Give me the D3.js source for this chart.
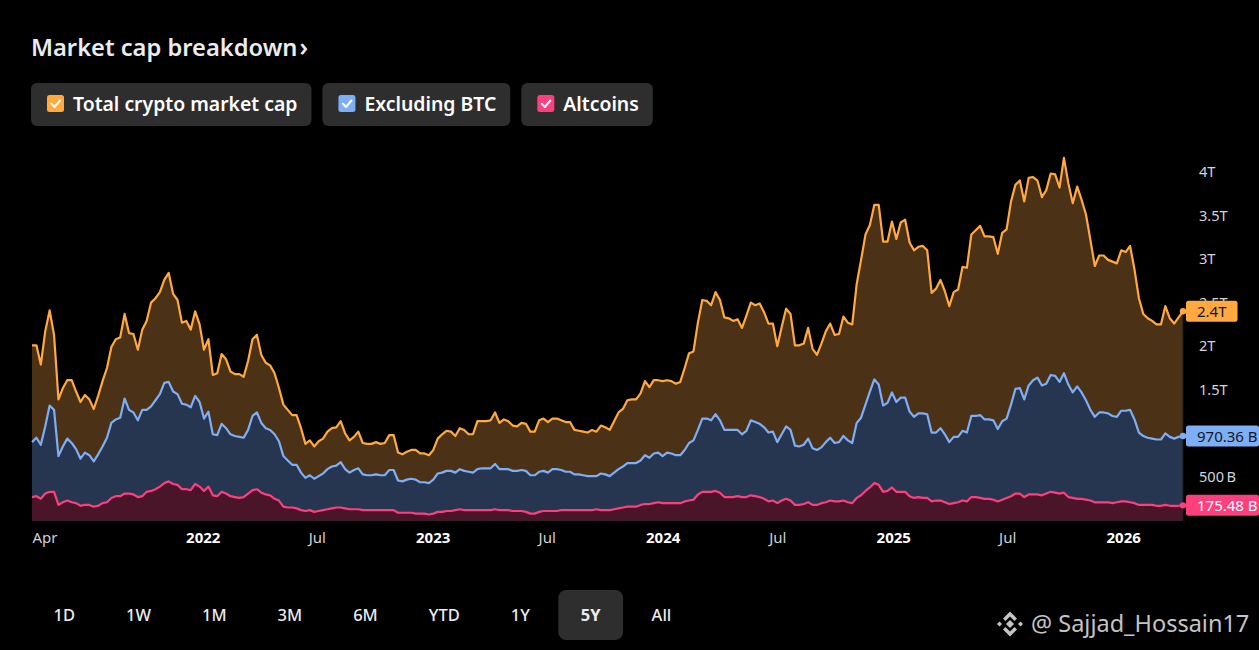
<!DOCTYPE html>
<html>
<head>
<meta charset="utf-8">
<script src="https://cdn.jsdelivr.net/npm/d3@7"></script>
<style>
  html, body { margin: 0; padding: 0; background: #000; }
  svg { display: block; font-family: "Noto Sans", "Open Sans", sans-serif; }
</style>
</head>
<body>
<svg id="chart" width="1259" height="650"></svg>
<script>
// weekly values in trillions of USD
const firstWeek = new Date(2021, 3, 5)

const total = [
  2.01,2.01,1.79,2.17,2.41,2.13,1.39,1.52,1.61,1.61,1.48,1.36,1.44,1.39,1.28,1.43,1.60,1.75,1.99,2.08,
  2.10,2.37,2.15,2.14,1.96,2.19,2.29,2.50,2.55,2.62,2.76,2.84,2.60,2.53,2.27,2.29,2.19,2.40,2.25,1.96,
  2.08,1.67,1.69,1.91,1.85,1.71,1.68,1.68,1.65,1.83,2.08,2.13,1.90,1.81,1.78,1.69,1.52,1.33,1.27,1.21,
  1.21,1.06,0.88,0.92,0.85,0.91,0.94,1.02,
  1.06,1.07,1.14,1.00,0.92,0.96,1.02,0.89,0.88,0.88,0.90,0.88,0.89,0.98,0.98,0.78,0.76,0.79,0.81,0.81,
  0.77,0.77,0.75,0.81,0.94,0.99,1.03,1.02,0.97,1.06,1.04,0.99,0.99,1.14,1.14,1.14,1.15,1.24,1.12,1.16,
  1.14,1.09,1.08,1.12,1.11,1.02,1.02,1.15,1.17,1.13,1.17,1.17,1.15,1.13,1.13,1.04,1.03,1.02,1.01,1.04,
  1.02,1.09,1.07,1.04,1.14,1.24,1.28,1.38,1.39,1.39,1.46,1.60,1.53,
  1.61,1.61,1.60,1.61,1.60,1.57,1.59,1.75,1.92,1.94,2.27,2.53,2.52,2.47,2.62,2.53,2.33,2.32,2.29,2.31,
  2.21,2.35,2.50,2.47,2.49,2.39,2.26,2.26,2.00,2.22,2.43,2.37,2.01,2.01,2.03,2.21,1.97,1.90,2.03,2.17,
  2.26,2.13,2.14,2.34,2.27,2.25,2.71,2.99,3.28,3.39,3.62,3.62,3.20,3.20,3.43,3.23,3.42,3.45,3.19,3.10,
  3.14,
  3.15,3.10,2.61,2.66,2.76,2.63,2.46,2.62,2.65,2.91,2.90,3.28,3.33,3.38,3.26,3.26,3.25,3.06,3.30,3.34,
  3.66,3.85,3.90,3.66,3.93,3.94,3.90,3.71,3.79,3.98,3.97,3.82,4.16,3.87,3.64,3.83,3.68,3.51,3.22,2.92,
  3.04,3.04,2.99,2.97,2.95,3.10,3.08,3.15,2.88,2.55,2.37,2.32,2.29,2.25,2.25,2.46,2.32,2.26,2.33,2.40
]

const exBtc = [
  0.90,0.95,0.87,1.08,1.32,1.27,0.74,0.85,0.94,0.89,0.82,0.71,0.78,0.75,0.68,0.76,0.85,0.95,1.12,1.16,
  1.18,1.40,1.27,1.24,1.15,1.27,1.27,1.31,1.38,1.45,1.58,1.59,1.48,1.45,1.34,1.33,1.30,1.43,1.36,1.17,
  1.25,0.99,0.98,1.11,1.06,0.99,0.97,0.96,0.95,1.04,1.20,1.24,1.12,1.06,1.04,0.99,0.91,0.74,0.69,0.64,
  0.64,0.55,0.49,0.52,0.48,0.51,0.54,0.59,
  0.62,0.63,0.67,0.59,0.55,0.58,0.60,0.53,0.52,0.52,0.53,0.52,0.52,0.58,0.58,0.46,0.45,0.47,0.48,0.47,
  0.44,0.44,0.43,0.47,0.54,0.55,0.57,0.57,0.55,0.59,0.57,0.56,0.55,0.59,0.60,0.60,0.60,0.65,0.59,0.59,
  0.59,0.57,0.57,0.58,0.57,0.52,0.52,0.56,0.57,0.55,0.59,0.59,0.58,0.56,0.56,0.53,0.53,0.52,0.51,0.51,
  0.51,0.54,0.53,0.51,0.55,0.59,0.62,0.66,0.66,0.66,0.69,0.75,0.72,
  0.77,0.78,0.74,0.78,0.77,0.75,0.75,0.81,0.89,0.92,1.04,1.17,1.17,1.15,1.22,1.15,1.04,1.04,1.04,1.04,
  0.99,1.03,1.15,1.13,1.11,1.07,1.01,1.02,0.90,0.99,1.08,1.04,0.86,0.85,0.87,0.94,0.83,0.81,0.84,0.90,
  0.95,0.89,0.90,0.97,0.92,0.89,1.12,1.18,1.33,1.48,1.62,1.56,1.32,1.35,1.47,1.36,1.41,1.41,1.25,1.19,
  1.23,
  1.23,1.22,1.01,1.01,1.06,0.99,0.90,0.96,0.96,1.03,1.01,1.20,1.20,1.21,1.16,1.16,1.15,1.05,1.14,1.17,
  1.33,1.51,1.52,1.39,1.55,1.61,1.64,1.55,1.57,1.67,1.66,1.59,1.69,1.56,1.47,1.54,1.47,1.38,1.27,1.19,
  1.24,1.24,1.23,1.20,1.19,1.26,1.26,1.27,1.16,1.01,0.97,0.95,0.94,0.93,0.93,1.00,0.96,0.94,0.96,0.97
]

const alts = [
  0.27,0.28,0.25,0.31,0.33,0.33,0.18,0.21,0.23,0.21,0.20,0.17,0.18,0.18,0.16,0.17,0.20,0.21,0.26,0.28,
  0.28,0.31,0.31,0.30,0.27,0.28,0.33,0.34,0.36,0.39,0.43,0.45,0.42,0.41,0.36,0.36,0.35,0.42,0.39,0.34,
  0.39,0.29,0.28,0.33,0.31,0.28,0.27,0.26,0.27,0.31,0.35,0.36,0.32,0.30,0.29,0.25,0.23,0.16,0.15,0.15,
  0.14,0.12,0.11,0.12,0.10,0.11,0.12,0.13,
  0.14,0.15,0.15,0.14,0.13,0.13,0.13,0.12,0.12,0.12,0.12,0.12,0.12,0.12,0.12,0.09,0.09,0.09,0.09,0.08,
  0.08,0.08,0.07,0.08,0.10,0.10,0.11,0.11,0.12,0.13,0.12,0.12,0.12,0.12,0.12,0.12,0.12,0.13,0.12,0.12,
  0.12,0.11,0.11,0.11,0.10,0.08,0.08,0.10,0.11,0.11,0.11,0.11,0.12,0.12,0.12,0.12,0.12,0.12,0.12,0.12,
  0.13,0.12,0.12,0.12,0.13,0.14,0.15,0.16,0.16,0.16,0.18,0.19,0.19,
  0.20,0.21,0.20,0.20,0.20,0.20,0.20,0.22,0.23,0.24,0.30,0.33,0.33,0.33,0.34,0.32,0.27,0.27,0.27,0.28,
  0.27,0.27,0.29,0.28,0.27,0.25,0.22,0.23,0.20,0.23,0.25,0.23,0.18,0.18,0.19,0.21,0.18,0.18,0.20,0.21,
  0.23,0.22,0.22,0.23,0.21,0.20,0.26,0.29,0.34,0.38,0.43,0.41,0.33,0.34,0.38,0.33,0.33,0.33,0.28,0.26,
  0.27,
  0.26,0.26,0.22,0.23,0.23,0.21,0.19,0.20,0.21,0.23,0.22,0.27,0.27,0.26,0.25,0.25,0.24,0.22,0.24,0.26,
  0.28,0.31,0.31,0.27,0.30,0.30,0.30,0.29,0.31,0.33,0.32,0.31,0.32,0.27,0.26,0.25,0.25,0.24,0.23,0.21,
  0.21,0.21,0.21,0.20,0.21,0.22,0.22,0.21,0.20,0.18,0.18,0.18,0.18,0.17,0.17,0.18,0.17,0.17,0.17,0.175
]

const seriesNames = ["Total crypto market cap", "Excluding BTC", "Altcoins"]
const lastLabels = ["2.4T", "970.36 B", "175.48 B"]
// the 1T tick sits under the blue value tag in the reference, so it is not listed
const yTicks = [0.5, 1.5, 2, 2.5, 3, 3.5, 4]
const xTicks = [firstWeek, new Date(2022,0,1), new Date(2022,6,1), new Date(2023,0,1), new Date(2023,6,1),
  new Date(2024,0,1), new Date(2024,6,1), new Date(2025,0,1), new Date(2025,6,1), new Date(2026,0,1)]
const ranges = ["1D", "1W", "1M", "3M", "6M", "YTD", "1Y", "5Y", "All"]
const activeRange = "5Y"

const lineColors = ["#ffa940", "#7eaef5", "#fd3f7d"]
const fillColors = ["#4b3216", "#263550", "#4a1429"]
const labelText = ["#131722", "#131722", "#ffffff"]

const svg = d3.select("#chart")

const weeks = total.map((_, i) => d3.timeDay.offset(firstWeek, 7 * i))
const series = [total, exBtc, alts]

const x = d3.scaleTime().domain([weeks[0], weeks[weeks.length - 1]]).range([32, 1183])
const y = d3.scaleLinear().domain([0, 4]).range([520.6, 171.8])

// title
const title = svg.append("text")
  .attr("x", 31).attr("y", 56)
  .attr("fill", "#eaecef")
  .attr("font-size", 23.7).attr("font-weight", 600)
  .text("Market cap breakdown")
title.append("tspan").attr("dx", 2).attr("font-size", 25).text("›")

// legend chips
let lx = 31
seriesNames.forEach((name, i) => {
  const g = svg.append("g").attr("transform", `translate(${lx},83)`)
  const rect = g.append("rect").attr("height", 43).attr("rx", 6).attr("fill", "#2e2e2e")
  g.append("rect").attr("x", 16).attr("y", 12).attr("width", 17).attr("height", 17)
    .attr("rx", 2.5).attr("fill", lineColors[i])
  g.append("path").attr("d", "M20.5,20.8 L23.6,24 L29,17.5")
    .attr("fill", "none").attr("stroke", "#fff").attr("stroke-width", 2)
    .attr("stroke-linecap", "round").attr("stroke-linejoin", "round")
  const t = g.append("text").attr("x", 42).attr("y", 28)
    .attr("fill", "#ffffff").attr("font-size", 19.4).attr("font-weight", 600)
    .text(name)
  const w = 42 + t.node().getComputedTextLength() + 14
  rect.attr("width", w)
  lx += w + 11
})

// y axis labels
const yAxis = svg.append("g")
  .attr("transform", "translate(1199,0)")
  .call(d3.axisRight(y).tickValues(yTicks).tickSize(0).tickPadding(0)
    .tickFormat(d => d >= 1 ? d + "T" : (d * 1000) + "\u2009B"))
yAxis.select(".domain").remove()
yAxis.selectAll("text").attr("fill", "#d1d4dc").attr("font-size", 14.6)
  .attr("font-family", "'Noto Sans', sans-serif")

// areas, back to front
series.forEach((vals, i) => {
  const area = d3.area().x((d, j) => x(weeks[j])).y0(y(0)).y1(d => y(d))
  svg.append("path").datum(vals).attr("d", area).attr("fill", fillColors[i])
})
series.forEach((vals, i) => {
  const line = d3.line().x((d, j) => x(weeks[j])).y(d => y(d))
  svg.append("path").datum(vals).attr("d", line)
    .attr("fill", "none").attr("stroke", lineColors[i]).attr("stroke-width", 2.2)
    .attr("stroke-linejoin", "round")
})
svg.append("line")
  .attr("x1", x(weeks[weeks.length - 1])).attr("x2", x(weeks[weeks.length - 1]))
  .attr("y1", y(total[total.length - 1])).attr("y2", y(0))
  .attr("stroke", "#1e1a14").attr("stroke-width", 1)

// last value markers
series.forEach((vals, i) => {
  const last = vals[vals.length - 1]
  const cx = x(weeks[weeks.length - 1])
  const cy = y(last)
  svg.append("circle").attr("cx", cx).attr("cy", cy).attr("r", 3.2).attr("fill", lineColors[i])
  const g = svg.append("g").attr("transform", `translate(1186,${cy})`)
  const r = g.append("rect").attr("y", -10.5).attr("height", 21).attr("rx", 2.5).attr("fill", lineColors[i])
  const t = g.append("text").attr("x", 11).attr("y", 5.5)
    .attr("fill", labelText[i]).attr("font-size", 15)
    .text(lastLabels[i])
  r.attr("width", Math.min(73, t.node().getComputedTextLength() + 22))
})

// x axis labels
const xAxis = svg.append("g")
  .attr("transform", "translate(0,530)")
  .call(d3.axisBottom(x).tickValues(xTicks).tickSize(0).tickPadding(0)
    .tickFormat(d => d.getMonth() === 0 ? d.getFullYear() : d.getMonth() === 6 ? "Jul" : "Apr"))
xAxis.select(".domain").remove()
xAxis.selectAll("text")
  .attr("dy", 13)
  .attr("font-size", 15)
  .attr("font-family", "'Noto Sans', sans-serif")
  .attr("fill", d => d.getMonth() === 0 ? "#ffffff" : "#cfd2d6")
  .attr("font-weight", d => d.getMonth() === 0 ? 700 : 400)
  .attr("text-anchor", d => d === firstWeek ? "start" : "middle")

// range buttons, laid out like a row of padded chips
let bx = 31
ranges.forEach(r => {
  const t = svg.append("text").attr("y", 621)
    .attr("text-anchor", "middle").attr("fill", "#eaecef")
    .attr("font-size", 16.5).attr("font-weight", r === activeRange ? 700 : 500)
    .text(r)
  const w = t.node().getComputedTextLength() + 45
  if (r === activeRange) {
    svg.insert("rect", "text").attr("x", bx).attr("y", 590)
      .attr("width", w).attr("height", 50).attr("rx", 8).attr("fill", "#2e2e2e")
  }
  t.attr("x", bx + w / 2)
  bx += w + 6
})

// watermark
const wm = svg.append("g").attr("transform", "translate(1010,624)").attr("fill", "#c4c4c4")
wm.append("path").attr("d", "M0,-4 L4,0 L0,4 L-4,0 Z")
wm.append("path").attr("d", "M-8,0 L-10.5,2.5 L-13,0 L-10.5,-2.5 Z")
wm.append("path").attr("d", "M8,0 L10.5,2.5 L13,0 L10.5,-2.5 Z")
wm.append("path").attr("d", "M0,-12.5 L7,-5.5 L4.5,-3 L0,-7.5 L-4.5,-3 L-7,-5.5 Z")
wm.append("path").attr("d", "M0,12.5 L7,5.5 L4.5,3 L0,7.5 L-4.5,3 L-7,5.5 Z")
svg.append("text").attr("x", 1031).attr("y", 632)
  .attr("fill", "#c4c4c4").attr("font-size", 23.5)
  .text("@ Sajjad_Hossain17")
</script>
</body>
</html>
